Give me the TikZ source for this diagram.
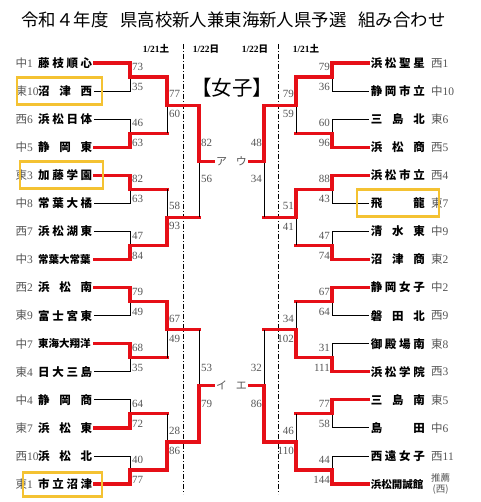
\documentclass[tikz,border=0pt]{standalone}
\usepackage{fontspec}
\setmainfont{Liberation Serif}
\newfontfamily\jp{Noto Sans CJK JP}
\usetikzlibrary{calc}
\definecolor{winRed}{HTML}{E60F17}
\definecolor{pickGold}{HTML}{F4C232}
\definecolor{inkGray}{HTML}{555555}
\newcommand{\sd}[2]{{\jp #1}#2}
\newcommand{\recseed}{\shortstack{\fontsize{9.5}{10}\selectfont\jp 推薦\\\fontsize{9.5}{10}\selectfont\jp (西)}}

\begin{document}
\begin{tikzpicture}[x=1pt,y=-1pt,
    win/.style={winRed,line width=3.2pt,line cap=rect},
    lose/.style={black,line width=0.9pt},
    seed/.style={inner sep=0pt,text=inkGray,font=\fontsize{11.5}{12}\selectfont},
    team/.style={inner sep=2pt,font=\jp\bfseries\fontsize{11.5}{12}\selectfont},
    score/.style={inner sep=0pt,text=inkGray,font=\fontsize{11}{11}\selectfont},
    kana/.style={inner sep=1pt,text=inkGray,font=\jp\fontsize{11}{11}\selectfont},
    day/.style={inner sep=0pt,font=\bfseries\fontsize{9.5}{10}\selectfont},
    sep/.style={line width=0.9pt,dash pattern=on 5pt off 2pt on 1pt off 2pt},
    pick/.style={draw=pickGold,line width=2.8pt,minimum width=83pt,minimum height=27pt,inner sep=0pt}]
  \useasboundingbox (0,0) rectangle (480,502);

  % heading
  \node[font=\jp\fontsize{17.4}{18}\selectfont] (title) at (233.5,20)
    {令和４年度\hspace{12pt}県高校新人兼東海新人県予選\hspace{12pt}組み合わせ};
  \node[font=\jp\fontsize{20.5}{21}\selectfont] (cat) at (232,88) {【女子】};

  % days
  \node[day] (d1) at (156,49) {1/21{\jp 土}};
  \node[day] (d2) at (206,49) {1/22{\jp 日}};
  \node[day] (d3) at (255,49) {1/22{\jp 日}};
  \node[day] (d4) at (306,49) {1/21{\jp 土}};
  \coordinate (s1a) at (183,44); \coordinate (s1b) at (183,494);
  \coordinate (s2a) at (278,44); \coordinate (s2b) at (278,494);
  \draw[sep] (s1a) -- (s1b);
  \draw[sep] (s2a) -- (s2b);

  % left teams
  \foreach \s/\n [count=\i from 0] in {
      \sd{中}{1}/藤 枝 順 心, \sd{東}{10}/沼 津 西, \sd{西}{6}/浜 松 日 体, \sd{中}{5}/静 岡 東,
      \sd{東}{3}/加 藤 学 園, \sd{中}{8}/常 葉 大 橘, \sd{西}{7}/浜 松 湖 東,
      \sd{中}{3}/{\fontsize{10.5}{11}\selectfont 常葉大常葉},
      \sd{西}{2}/浜 松 南, \sd{東}{9}/富 士 宮 東,
      \sd{中}{7}/{\fontsize{10.5}{11}\selectfont 東海大翔洋}, \sd{東}{4}/日 大 三 島,
      \sd{中}{4}/静 岡 商, \sd{東}{7}/浜 松 東, \sd{西}{10}/浜 松 北, \sd{東}{1}/市 立 沼 津}{
    \pgfmathsetmacro\y{63+28.07*\i}
    \node[seed,anchor=west] (Ls\i) at (15.5,\y) {\s};
    \node[team,anchor=west] (Ln\i) at (36,\y) {\makebox[54pt][s]{\n}};
  }

  % right teams
  \foreach \s/\n [count=\i from 0] in {
      \sd{西}{1}/浜 松 聖 星, \sd{中}{10}/静 岡 市 立, \sd{東}{6}/三 島 北, \sd{西}{5}/浜 松 商,
      \sd{西}{4}/浜 松 市 立, \sd{東}{7}/飛 龍, \sd{中}{9}/清 水 東, \sd{東}{2}/沼 津 商,
      \sd{中}{2}/静 岡 女 子, \sd{西}{9}/磐 田 北, \sd{東}{8}/御 殿 場 南, \sd{西}{3}/浜 松 学 院,
      \sd{東}{5}/三 島 南, \sd{中}{6}/島 田, \sd{西}{11}/西 遠 女 子,
      \recseed/{\fontsize{10.5}{11}\selectfont 浜松開誠館}}{
    \pgfmathsetmacro\y{63+28.07*\i}
    \node[seed,anchor=west] (Rs\i) at (431,\y) {\s};
    \node[team,anchor=east] (Rn\i) at (427,\y) {\makebox[54pt][s]{\n}};
  }

  % left bracket
  \foreach \k/\a/\b/\p/\q in {0/0/1/73/35, 1/3/2/46/63, 2/4/5/82/63, 3/7/6/47/84,
      4/8/9/79/49, 5/10/11/68/35, 6/13/12/64/72, 7/15/14/40/77}{
    \pgfmathsetmacro\m{63+28.07*(2*\k+0.5)}
    \coordinate (L1j\k) at (130,\m);
    \coordinate (L1o\k) at (167,\m);
    \draw[lose] (Ln\b.east) -| (L1j\k);
    \draw[win] (Ln\a.east) -| (L1j\k) -- (L1o\k);
    \node[score,anchor=west] (L1p\k) at (132,\m-10) {\p};
    \node[score,anchor=west] (L1q\k) at (132,\m+10) {\q};
  }
  \foreach \k/\a/\b/\p/\q in {0/0/1/77/60, 1/3/2/58/93, 2/4/5/67/49, 3/7/6/28/86}{
    \pgfmathsetmacro\m{63+28.07*(4*\k+1.5)}
    \coordinate (L2j\k) at (167,\m);
    \coordinate (L2o\k) at (199,\m);
    \draw[lose] (L1o\b) -- (L2j\k);
    \draw[win] (L1o\a) -- (L2j\k) -- (L2o\k);
    \node[score,anchor=west] (L2p\k) at (169,\m-11) {\p};
    \node[score,anchor=west] (L2q\k) at (169,\m+9) {\q};
  }
  \foreach \k/\a/\b/\p/\q in {0/0/1/82/56, 1/3/2/53/79}{
    \pgfmathsetmacro\m{63+28.07*(8*\k+3.5)}
    \coordinate (L3j\k) at (199,\m);
    \coordinate (L3o\k) at (213,\m);
    \draw[lose] (L2o\b) -- (L3j\k);
    \draw[win] (L2o\a) -- (L3j\k) -- (L3o\k);
    \node[score,anchor=west] (L3p\k) at (201,\m-18) {\p};
    \node[score,anchor=west] (L3q\k) at (201,\m+18) {\q};
  }
  \node[kana,anchor=west,xshift=2pt] (kA) at (L3o0) {ア};
  \node[kana,anchor=west,xshift=2pt] (kI) at (L3o1) {イ};

  % right bracket
  \foreach \k/\a/\b/\p/\q in {0/0/1/79/36, 1/3/2/60/96, 2/4/5/88/43, 3/7/6/47/74,
      4/8/9/67/64, 5/11/10/31/111, 6/12/13/77/58, 7/15/14/44/144}{
    \pgfmathsetmacro\m{63+28.07*(2*\k+0.5)}
    \coordinate (R1j\k) at (332,\m);
    \coordinate (R1o\k) at (296,\m);
    \draw[lose] (Rn\b.west) -| (R1j\k);
    \draw[win] (Rn\a.west) -| (R1j\k) -- (R1o\k);
    \node[score,anchor=east] (R1p\k) at (330,\m-10) {\p};
    \node[score,anchor=east] (R1q\k) at (330,\m+10) {\q};
  }
  \foreach \k/\a/\b/\p/\q in {0/0/1/79/59, 1/2/3/51/41, 2/5/4/34/102, 3/7/6/46/110}{
    \pgfmathsetmacro\m{63+28.07*(4*\k+1.5)}
    \coordinate (R2j\k) at (296,\m);
    \coordinate (R2o\k) at (264,\m);
    \draw[lose] (R1o\b) -- (R2j\k);
    \draw[win] (R1o\a) -- (R2j\k) -- (R2o\k);
    \node[score,anchor=east] (R2p\k) at (294,\m-11) {\p};
    \node[score,anchor=east] (R2q\k) at (294,\m+9) {\q};
  }
  \foreach \k/\a/\b/\p/\q in {0/0/1/48/34, 1/3/2/32/86}{
    \pgfmathsetmacro\m{63+28.07*(8*\k+3.5)}
    \coordinate (R3j\k) at (264,\m);
    \coordinate (R3o\k) at (250,\m);
    \draw[lose] (R2o\b) -- (R3j\k);
    \draw[win] (R2o\a) -- (R3j\k) -- (R3o\k);
    \node[score,anchor=east] (R3p\k) at (262,\m-18) {\p};
    \node[score,anchor=east] (R3q\k) at (262,\m+18) {\q};
  }
  \node[kana,anchor=east,xshift=-2pt] (kU) at (R3o0) {ウ};
  \node[kana,anchor=east,xshift=-2pt] (kE) at (R3o1) {エ};

  % highlighted teams
  \node[pick,minimum width=85pt] (box1) at (59.5,91.1) {};
  \node[pick] (box2) at (61.5,175.3) {};
  \node[pick,minimum width=79pt,minimum height=24pt] (box3) at (62.5,484.1) {};
  \node[pick,minimum width=82pt] (box4) at (398,203.4) {};
\end{tikzpicture}
\end{document}
